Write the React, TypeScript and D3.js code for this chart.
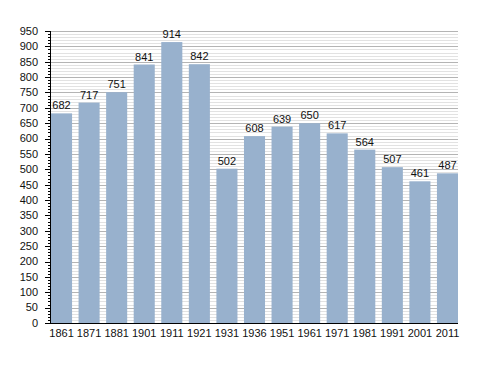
import { useRef, useEffect } from 'react';
import * as d3 from 'd3';

// 年ごとの人口
const years = ['1861', '1871', '1881', '1901', '1911', '1921', '1931', '1936', '1951', '1961', '1971', '1981', '1991', '2001', '2011'];
const population = [682, 717, 751, 841, 914, 842, 502, 608, 639, 650, 617, 564, 507, 461, 487];
const yMajorTicks = d3.range(0, 951, 50);
const yMinorTicks = d3.range(0, 951, 10);

export default function App() {
    const svgRef = useRef<SVGSVGElement>(null);

    useEffect(() => {
        const width = 488;
        const height = 373;
        const left = 50;
        const right = 458;
        const top = 31;
        const bottom = 323;

        const svg = d3.select(svgRef.current)
            .attr('width', width)
            .attr('height', height)
            .html('');

        const x = d3.scaleBand<string>()
            .domain(years)
            .range([left + 1, right])
            .paddingInner(0.236)
            .paddingOuter(0);

        const y = d3.scaleLinear().domain([0, 950]).range([bottom, top]);

        // 補助グリッド
        svg.append('g')
            .selectAll('line')
            .data(yMinorTicks.filter(d => d % 50 !== 0))
            .enter()
            .append('line')
            .attr('x1', left)
            .attr('x2', right)
            .attr('y1', d => Math.round(y(d)) + 0.5)
            .attr('y2', d => Math.round(y(d)) + 0.5)
            .attr('stroke', '#e2e2e2')
            .attr('stroke-width', 1);

        // 主グリッド
        svg.append('g')
            .selectAll('line')
            .data(yMajorTicks.filter(d => d > 0))
            .enter()
            .append('line')
            .attr('x1', left)
            .attr('x2', right)
            .attr('y1', d => Math.round(y(d)) + 0.5)
            .attr('y2', d => Math.round(y(d)) + 0.5)
            .attr('stroke', '#b4b4b4')
            .attr('stroke-width', 1);

        // 棒
        svg.append('g')
            .selectAll('rect')
            .data(population)
            .enter()
            .append('rect')
            .attr('x', (d, i) => x(years[i])!)
            .attr('y', d => y(d))
            .attr('width', x.bandwidth())
            .attr('height', d => bottom - y(d))
            .attr('fill', '#98b1cd');

        // 値ラベル
        svg.append('g')
            .selectAll('text')
            .data(population)
            .enter()
            .append('text')
            .attr('x', (d, i) => x(years[i])! + x.bandwidth() / 2)
            .attr('y', d => y(d) - 4)
            .attr('text-anchor', 'middle')
            .attr('font-family', 'Liberation Sans, Arial, sans-serif')
            .attr('font-size', '11px')
            .attr('fill', '#111')
            .text(d => d);

        // Y軸
        const yAxis = svg.append('g');
        yAxis.append('line')
            .attr('x1', left + 0.5).attr('x2', left + 0.5)
            .attr('y1', top).attr('y2', bottom)
            .attr('stroke', '#000');
        yAxis.selectAll('.minor')
            .data(yMinorTicks)
            .enter()
            .append('line')
            .attr('x1', left - 2)
            .attr('x2', left)
            .attr('y1', d => Math.round(y(d)) + 0.5)
            .attr('y2', d => Math.round(y(d)) + 0.5)
            .attr('stroke', '#000');
        yAxis.selectAll('.major')
            .data(yMajorTicks)
            .enter()
            .append('line')
            .attr('x1', left - 5)
            .attr('x2', left)
            .attr('y1', d => Math.round(y(d)) + 0.5)
            .attr('y2', d => Math.round(y(d)) + 0.5)
            .attr('stroke', '#000');
        yAxis.selectAll('text')
            .data(yMajorTicks)
            .enter()
            .append('text')
            .attr('x', left - 12)
            .attr('y', d => y(d))
            .attr('dy', '0.35em')
            .attr('text-anchor', 'end')
            .attr('font-family', 'Liberation Sans, Arial, sans-serif')
            .attr('font-size', '11px')
            .attr('fill', '#111')
            .text(d => d);

        // X軸
        svg.append('line')
            .attr('x1', left).attr('x2', right)
            .attr('y1', bottom + 0.5).attr('y2', bottom + 0.5)
            .attr('stroke', '#000');
        svg.append('g')
            .selectAll('text')
            .data(years)
            .enter()
            .append('text')
            .attr('x', d => x(d)! + x.bandwidth() / 2)
            .attr('y', bottom + 14)
            .attr('text-anchor', 'middle')
            .attr('font-family', 'Liberation Sans, Arial, sans-serif')
            .attr('font-size', '11px')
            .attr('fill', '#111')
            .text(d => d);
    }, []);

    return (
        <svg ref={svgRef} style={{ position: 'absolute', left: 0, top: 0, background: '#fff' }}></svg>
    );
}
